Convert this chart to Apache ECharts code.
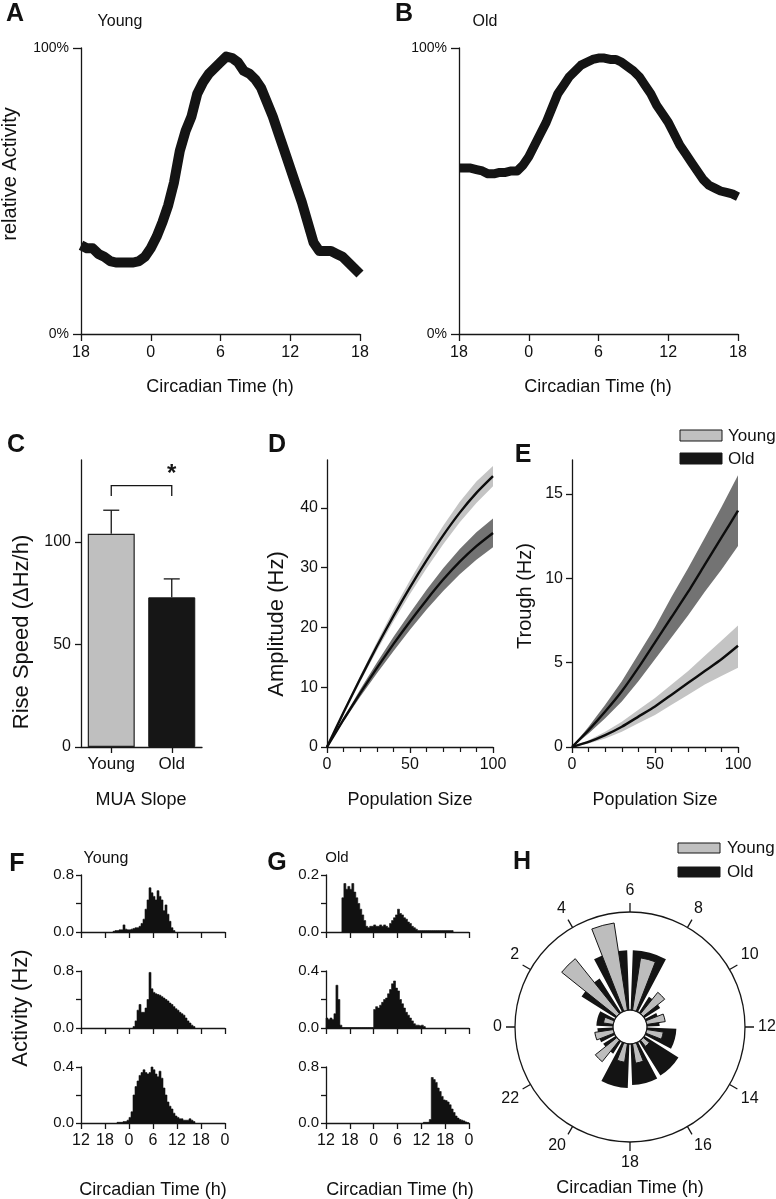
<!DOCTYPE html>
<html><head><meta charset="utf-8">
<script src="https://cdn.jsdelivr.net/npm/echarts@6/dist/echarts.min.js"></script>
<style>html,body{margin:0;padding:0;background:#fff}#c{width:776px;height:1199px}</style>
</head><body><div id="c"></div>
<script>
const FONT = '"Liberation Sans", Arial, Helvetica, sans-serif';
const INK = '#161616';

// ---------- Panels A / B : relative activity (%) vs circadian time (h; -6 = CT18)
const ctHours = [-6,-5.5,-5,-4.5,-4,-3.5,-3,-2.5,-2,-1.5,-1,-0.5,0,0.5,1,1.5,2,2.5,3,3.5,4,4.5,5,5.5,6,6.5,7,7.5,8,8.5,9,9.5,10,10.5,11,11.5,12,12.5,13,13.5,14,14.5,15,15.5,16,16.5,17,17.5,18];
const youngRel = [31,30,30,28,27,25.5,25,25,25,25,25.5,27,30,34,39,45,53,64,71,76,84,88,91,93,95,97,96.5,95,92,91,89,86,81,76,70,64,58,52,46,39,32,29,29,29,28,27,25,23,21];
const oldRel = [58,58,58,57.5,57,56,56,56.5,56.5,57,57,59,62,66,70,74,79,84,87,90,92,94,95,96,96.5,96.5,96,96,95,93.5,92,90,87,84,80,77,74,70,66,63,60,57,54,52,51,50,49.5,49,48];
const relTicks = [0, 100];

// ---------- Panel C : MUA slope
const groups = ['Young', 'Old'];
const riseSpeed = [104, 73];
const riseSpeedErr = [11.5, 9];

// ---------- Panels D / E : population size
const popSize = [0,10,20,30,40,50,60,70,80,90,100];
const ampYoung   = [0,5.8,11.4,16.8,21.9,26.7,31.2,35.4,39.2,42.5,45.3];
const ampYoungHi = [0,6.1,11.9,17.5,22.9,27.9,32.6,37.0,41.0,44.4,47.0];
const ampYoungLo = [0,5.5,10.9,16.1,21.0,25.6,29.9,33.9,37.6,40.8,43.6];
const ampOld     = [0,4.6,9.0,13.2,17.2,21.0,24.6,28.0,31.0,33.6,35.8];
const ampOldHi   = [0,4.9,9.6,14.1,18.4,22.4,26.3,29.9,33.1,35.9,38.2];
const ampOldLo   = [0,4.3,8.4,12.3,16.0,19.6,23.0,26.1,28.9,31.3,33.4];
const trYoung    = [0,0.3,0.7,1.2,1.8,2.4,3.1,3.8,4.5,5.2,6.0];
const trYoungHi  = [0,0.4,0.9,1.5,2.2,2.9,3.7,4.5,5.4,6.3,7.2];
const trYoungLo  = [0,0.2,0.5,0.9,1.4,1.9,2.5,3.1,3.7,4.2,4.7];
const trOld      = [0,1.0,2.1,3.3,4.7,6.2,7.7,9.2,10.8,12.4,14.0];
const trOldHi    = [0,1.2,2.5,3.9,5.5,7.1,8.9,10.6,12.4,14.2,16.1];
const trOldLo    = [0,0.8,1.7,2.7,3.9,5.2,6.5,7.8,9.2,10.5,11.9];

// ---------- Panels F / G : single-unit histograms (0.5 h bins, hours 12..48)
const fRow1Start = 20;
const fRow1 = [0.01,0.02,0.02,0.03,0.03,0.10,0.04,0.03,0.03,0.04,0.05,0.06,0.06,0.08,0.12,0.18,0.32,0.45,0.62,0.55,0.50,0.45,0.58,0.50,0.45,0.30,0.38,0.25,0.15,0.06,0.02];
const fRow2Start = 25;
const fRow2 = [0.02,0.10,0.25,0.33,0.22,0.22,0.28,0.40,0.78,0.55,0.50,0.48,0.47,0.46,0.44,0.42,0.40,0.38,0.35,0.33,0.30,0.27,0.25,0.22,0.20,0.18,0.14,0.10,0.07,0.04,0.02];
const fRow3Start = 21;
const fRow3 = [0.005,0.005,0.005,0.01,0.01,0.02,0.04,0.08,0.20,0.26,0.30,0.34,0.36,0.38,0.36,0.35,0.36,0.40,0.38,0.35,0.33,0.37,0.32,0.25,0.20,0.15,0.12,0.10,0.07,0.05,0.04,0.03,0.03,0.02,0.02,0.02,0.03,0.02,0.01];
const gRow1Start = 16;
const gRow1 = [0.12,0.17,0.15,0.16,0.15,0.17,0.14,0.12,0.10,0.08,0.06,0.04,0.02,0.015,0.02,0.02,0.025,0.02,0.02,0.025,0.02,0.025,0.02,0.015,0.03,0.04,0.05,0.06,0.08,0.065,0.06,0.05,0.045,0.035,0.03,0.02,0.015,0.01,0.005,0.005,0.005,0.005,0.005,0.005,0.005,0.005,0.005,0.005,0.005,0.005,0.005,0.005,0.005,0.005,0.005,0.005];
const gRow2Start = 12;
const gRow2 = [0.07,0.06,0.07,0.06,0.10,0.30,0.20,0.02,0.003,0.003,0.003,0.003,0.003,0.003,0.003,0.003,0.003,0.003,0.003,0.003,0.003,0.003,0.003,0.003,0.13,0.15,0.14,0.16,0.18,0.20,0.21,0.24,0.27,0.31,0.33,0.28,0.26,0.20,0.17,0.14,0.11,0.09,0.07,0.05,0.03,0.02,0.02,0.015,0.02,0.01];
const gRow3Start = 36.5;
const gRow3 = [0.01,0.01,0.01,0.05,0.65,0.62,0.58,0.50,0.45,0.38,0.33,0.32,0.30,0.26,0.20,0.15,0.10,0.07,0.05,0.04,0.03,0.015,0.005];
const fMax = [0.8, 0.8, 0.4];
const gMax = [0.2, 0.4, 0.8];

// ---------- Panel H : rose of peak times (2 h bins centred on odd CT)
const roseBins = ['0-2','2-4','4-6','6-8','8-10','10-12','12-14','14-16','16-18','18-20','20-22','22-24'];
const roseYoung = [10,72,90,54,28,19,17,8,20,19,28,19];
const roseOld   = [17,41,61,61,19,13,30,41,42,45,15,16];

// ====================================================================
const axLine = () => ({show:true, onZero:false, lineStyle:{color:INK, width:1.3}});
const axTick = (len, vals) => Object.assign({show:true, length:len, lineStyle:{color:INK, width:1.3}}, vals ? {customValues: vals} : {});
const axLabel = (size, margin, fmt, vals) => Object.assign({show:true, fontFamily:FONT, fontSize:size, color:'#111', margin:margin}, fmt ? {formatter:fmt} : {}, vals ? {customValues: vals} : {});
const noSplit = {show:false};

const grids = [
  {left:81, top:48, width:279, height:286},   // 0 A
  {left:459, top:48, width:279, height:286},  // 1 B
  {left:81, top:460, width:121, height:287},  // 2 C
  {left:327, top:460, width:166, height:287}, // 3 D
  {left:572, top:460, width:166, height:287}, // 4 E
  {left:81, top:875, width:144, height:57},   // 5 F1
  {left:81, top:971, width:144, height:57},   // 6 F2
  {left:81, top:1067, width:144, height:56},  // 7 F3
  {left:326, top:875, width:143, height:57},  // 8 G1
  {left:326, top:971, width:143, height:57},  // 9 G2
  {left:326, top:1067, width:143, height:56}  // 10 G3
].map(g => Object.assign({containLabel:false, outerBoundsMode:'none'}, g));

const ctFmt = v => (v < 0 ? v + 24 : v);
const xAxes = [], yAxes = [];
// A, B
for (let i = 0; i < 2; i++) {
  xAxes.push({gridIndex:i, type:'value', min:-6, max:18, interval:6, axisLine:axLine(), axisTick:axTick(7), axisLabel:axLabel(16, 11, ctFmt), splitLine:noSplit});
  yAxes.push({gridIndex:i, type:'value', min:0, max:100, interval:100, axisLine:axLine(), axisTick:axTick(8, relTicks), axisLabel:axLabel(14, 12, v => v + '%', relTicks), splitLine:noSplit});
}
// C
xAxes.push({gridIndex:2, type:'category', data:groups, axisLine:axLine(), axisTick:Object.assign(axTick(6), {alignWithLabel:true, interval:0}),
  axisLabel:Object.assign(axLabel(17, 9), {interval:0, hideOverlap:false}), splitLine:noSplit});
yAxes.push({gridIndex:2, type:'value', min:0, max:140, interval:50, axisLine:axLine(), axisTick:axTick(6, [0,50,100]), axisLabel:axLabel(16, 10, null, [0,50,100]), splitLine:noSplit});
// D, E
for (let i = 3; i <= 4; i++) {
  xAxes.push({gridIndex:i, type:'value', min:0, max:100, interval:50, axisLine:axLine(), axisTick:axTick(6), minorTick:{show:true, splitNumber:5, length:5, lineStyle:{color:INK, width:1.2}}, axisLabel:axLabel(16, 10), splitLine:noSplit, minorSplitLine:noSplit});
}
yAxes.push({gridIndex:3, type:'value', min:0, max:48, interval:10, axisLine:axLine(), axisTick:axTick(6, [0,10,20,30,40]), axisLabel:axLabel(16, 9, null, [0,10,20,30,40]), splitLine:noSplit});
yAxes.push({gridIndex:4, type:'value', min:0, max:17, interval:5, axisLine:axLine(), axisTick:axTick(6, [0,5,10,15]), axisLabel:axLabel(16, 9, null, [0,5,10,15]), splitLine:noSplit});
// F, G
const histMax = fMax.concat(gMax);
for (let k = 0; k < 6; k++) {
  const gi = 5 + k, mx = histMax[k], bottom = (k % 3 === 2);
  xAxes.push({gridIndex:gi, type:'value', min:12, max:48, interval:6, axisLine:axLine(), axisTick:axTick(6), axisLabel:bottom ? axLabel(16, 10, v => v % 24) : {show:false}, splitLine:noSplit});
  yAxes.push({gridIndex:gi, type:'value', min:0, max:mx, interval:mx/2, axisLine:axLine(), axisTick:axTick(5), axisLabel:axLabel(15, 7, v => (Math.abs(v - mx/2) < 1e-9 ? '' : v.toFixed(1))), splitLine:noSplit});
}

// ---------- series helpers
function bandSeries(gi, xs, lo, hi, color) {
  return {type:'custom', coordinateSystem:'cartesian2d', xAxisIndex:gi, yAxisIndex:gi, silent:true, z:1,
    data: xs.map((x, i) => [x, lo[i], hi[i]]),
    renderItem: (params, api) => {
      if (params.dataIndex !== 0) return null;
      const top = xs.map((x, i) => api.coord([x, hi[i]]));
      const bot = xs.map((x, i) => api.coord([x, lo[i]])).reverse();
      return {type:'polygon', shape:{points: top.concat(bot)}, style:{fill:color}};
    }};
}
function meanLine(gi, xs, ys) {
  return {type:'line', xAxisIndex:gi, yAxisIndex:gi, data: xs.map((x, i) => [x, ys[i]]), showSymbol:false, symbol:'none', z:3,
    lineStyle:{color:'#0d0d0d', width:2.4}, smooth:0.2, silent:true};
}
function histSeries(gi, start, vals) {
  return {type:'custom', coordinateSystem:'cartesian2d', xAxisIndex:gi, yAxisIndex:gi, silent:true,
    data: vals.map((v, i) => [start + 0.5 * i, v]),
    renderItem: (params, api) => {
      if (params.dataIndex !== 0) return null;
      const pts = [api.coord([start, 0])];
      vals.forEach((v, i) => {
        const x0 = start + 0.5 * i;
        pts.push(api.coord([x0, v]));
        pts.push(api.coord([x0 + 0.5, v]));
      });
      pts.push(api.coord([start + 0.5 * vals.length, 0]));
      return {type:'polygon', shape:{points:pts}, style:{fill:'#111', stroke:'#111', lineWidth:0.6}};
    }};
}

const series = [];
// A, B
series.push({type:'line', xAxisIndex:0, yAxisIndex:0, data: ctHours.map((h, i) => [h, youngRel[i]]), showSymbol:false, symbol:'none', silent:true,
  lineStyle:{color:'#141414', width:10, join:'round', cap:'butt'}});
series.push({type:'line', xAxisIndex:1, yAxisIndex:1, data: ctHours.map((h, i) => [h, oldRel[i]]), showSymbol:false, symbol:'none', silent:true,
  lineStyle:{color:'#141414', width:9, join:'round', cap:'butt'}});
// C bars
series.push({type:'bar', xAxisIndex:2, yAxisIndex:2, barWidth:47, silent:true,
  data: riseSpeed.map((v, i) => ({value:v, itemStyle: i === 0 ? {color:'#bfbfbf', borderColor:'#222', borderWidth:1.2} : {color:'#161616', borderColor:'#161616', borderWidth:1}}))});
// C error bars
series.push({type:'custom', coordinateSystem:'cartesian2d', xAxisIndex:2, yAxisIndex:2, silent:true, z:5,
  data: riseSpeed.map((v, i) => [i, v, v + riseSpeedErr[i]]),
  renderItem: (params, api) => {
    const b = api.coord([api.value(0), api.value(1)]), t = api.coord([api.value(0), api.value(2)]);
    const st = {stroke:'#161616', lineWidth:1.3};
    return {type:'group', children:[
      {type:'line', shape:{x1:b[0], y1:b[1], x2:t[0], y2:t[1]}, style:st},
      {type:'line', shape:{x1:t[0] - 8, y1:t[1], x2:t[0] + 8, y2:t[1]}, style:st}]};
  }});
// C significance bracket
series.push({type:'custom', coordinateSystem:'cartesian2d', xAxisIndex:2, yAxisIndex:2, silent:true, z:5,
  data: [[0, 1, 127.5, 122.5, 133]],
  renderItem: (params, api) => {
    const a = api.coord([api.value(0), api.value(2)]), b = api.coord([api.value(1), api.value(2)]);
    const a2 = api.coord([api.value(0), api.value(3)]), b2 = api.coord([api.value(1), api.value(3)]);
    const s = api.coord([0.5, api.value(4)]);
    return {type:'group', children:[
      {type:'polyline', shape:{points:[a2, a, b, b2]}, style:{stroke:'#161616', lineWidth:1.3, fill:null}},
      {type:'text', x:s[0], y:s[1], style:{text:'*', fontFamily:FONT, fontSize:24, fontWeight:'bold', fill:'#161616', align:'center', verticalAlign:'middle'}}]};
  }});
// D
series.push(bandSeries(3, popSize, ampYoungLo, ampYoungHi, '#c4c4c4'));
series.push(bandSeries(3, popSize, ampOldLo, ampOldHi, '#737373'));
series.push(meanLine(3, popSize, ampYoung));
series.push(meanLine(3, popSize, ampOld));
// E
series.push(bandSeries(4, popSize, trYoungLo, trYoungHi, '#c4c4c4'));
series.push(bandSeries(4, popSize, trOldLo, trOldHi, '#737373'));
series.push(meanLine(4, popSize, trYoung));
series.push(meanLine(4, popSize, trOld));
// F, G
series.push(histSeries(5, fRow1Start, fRow1));
series.push(histSeries(6, fRow2Start, fRow2));
series.push(histSeries(7, fRow3Start, fRow3));
series.push(histSeries(8, gRow1Start, gRow1));
series.push(histSeries(9, gRow2Start, gRow2));
series.push(histSeries(10, gRow3Start, gRow3));
// H
series.push({type:'bar', coordinateSystem:'polar', polarIndex:1, data:roseOld, barWidth:'86%', silent:true,
  itemStyle:{color:'#141414'}});
series.push({type:'bar', coordinateSystem:'polar', polarIndex:2, data:roseYoung, barWidth:'42%', silent:true,
  itemStyle:{color:'#bdbdbd', borderColor:'#141414', borderWidth:1}});

const polarCenter = [630, 1027];
const polar = [0, 1, 2].map(() => ({center:polarCenter, radius:[17, 115]}));
const angleAxis = [
  {polarIndex:0, type:'value', min:0, max:24, interval:2, startAngle:180, clockwise:true,
    axisLine:{show:true, lineStyle:{color:INK, width:1.3}}, axisTick:{show:true, length:9, lineStyle:{color:INK, width:1.3}},
    axisLabel:{show:true, fontFamily:FONT, fontSize:16, color:'#111', margin:13, formatter: v => (v === 24 ? '' : v)},
    splitLine:noSplit, splitArea:{show:false}},
  {polarIndex:1, type:'category', data:roseBins, startAngle:180, clockwise:true, axisLine:{show:false}, axisTick:{show:false}, axisLabel:{show:false}, splitLine:noSplit, splitArea:{show:false}},
  {polarIndex:2, type:'category', data:roseBins, startAngle:180, clockwise:true, axisLine:{show:false}, axisTick:{show:false}, axisLabel:{show:false}, splitLine:noSplit, splitArea:{show:false}}
];
const radiusAxis = [0, 1, 2].map(i => ({polarIndex:i, type:'value', min:0, max:100, axisLine:{show:false}, axisTick:{show:false}, axisLabel:{show:false}, splitLine:noSplit, splitArea:{show:false}}));

// ---------- free texts
function txt(t, x, y, size, opts) {
  opts = opts || {};
  return {type:'text', x:x, y:y, rotation: opts.rot || 0, silent:true,
    style:{text:t, fontFamily:FONT, fontSize:size, fontWeight: opts.bold ? 'bold' : 'normal', fill:'#111',
      align: opts.align || 'center', verticalAlign:'middle'}};
}
const V = Math.PI / 2;
const graphic = [
  txt('A', 15, 14, 25, {bold:true}), txt('B', 404, 14, 25, {bold:true}),
  txt('C', 16, 445, 25, {bold:true}), txt('D', 277, 445, 25, {bold:true}), txt('E', 523, 455, 25, {bold:true}),
  txt('F', 17, 864, 25, {bold:true}), txt('G', 277, 863, 25, {bold:true}), txt('H', 522, 862, 25, {bold:true}),
  txt('Young', 120, 22, 16), txt('Old', 485, 22, 16),
  txt('relative Activity', 10, 174, 20, {rot:V}),
  txt('Circadian Time (h)', 220, 387, 18), txt('Circadian Time (h)', 598, 387, 18),
  txt('Rise Speed (\u0394Hz/h)', 22, 632, 22, {rot:V}), txt('MUA Slope', 141, 800, 18),
  txt('Amplitude (Hz)', 277, 624, 22, {rot:V}), txt('Population Size', 410, 800, 18),
  txt('Trough (Hz)', 525, 596, 20, {rot:V}), txt('Population Size', 655, 800, 18),
  txt('Young', 106, 859, 16), txt('Old', 337, 858, 15),
  txt('Activity (Hz)', 21, 1008, 22, {rot:V}),
  txt('Circadian Time (h)', 153, 1190, 18), txt('Circadian Time (h)', 400, 1190, 18), txt('Circadian Time (h)', 630, 1188, 18),
  // legend E
  {type:'rect', shape:{x:680, y:430, width:42, height:11}, style:{fill:'#c0c0c0', stroke:'#161616', lineWidth:1}, silent:true},
  {type:'rect', shape:{x:680, y:453, width:42, height:11}, style:{fill:'#161616', stroke:'#161616', lineWidth:1}, silent:true},
  txt('Young', 728, 436, 17, {align:'left'}), txt('Old', 728, 459, 17, {align:'left'}),
  // legend H
  {type:'rect', shape:{x:678, y:843, width:42, height:10}, style:{fill:'#c0c0c0', stroke:'#161616', lineWidth:1}, silent:true},
  {type:'rect', shape:{x:678, y:867, width:42, height:10}, style:{fill:'#161616', stroke:'#161616', lineWidth:1}, silent:true},
  txt('Young', 727, 848, 17, {align:'left'}), txt('Old', 727, 872, 17, {align:'left'})
];

const chart = echarts.init(document.getElementById('c'), null, {renderer:'canvas', width:776, height:1199});
chart.setOption({
  animation:false, backgroundColor:'#ffffff',
  textStyle:{fontFamily:FONT},
  grid:grids, xAxis:xAxes, yAxis:yAxes,
  polar:polar, angleAxis:angleAxis, radiusAxis:radiusAxis,
  series:series, graphic:graphic
});
</script>
</body></html>
